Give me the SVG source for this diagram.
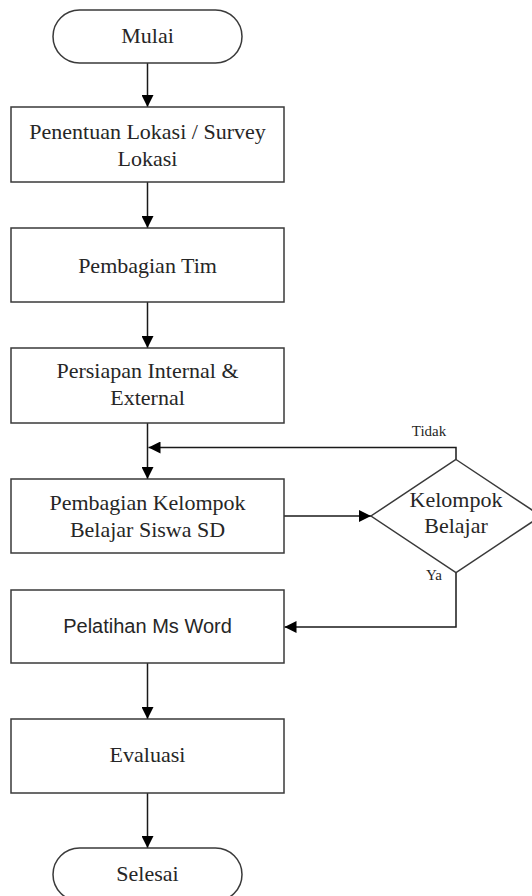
<svg xmlns="http://www.w3.org/2000/svg" width="532" height="896" viewBox="0 0 532 896">
<style>
.shape{fill:#fff;stroke:#3a3a3a;stroke-width:1.5}
.t{font-family:"Liberation Serif","Times New Roman",serif;font-size:22px;fill:#262626;text-anchor:middle}
.s{font-family:"Liberation Sans",Arial,sans-serif;font-size:20px;fill:#262626;text-anchor:middle}
.sm{font-family:"Liberation Serif","Times New Roman",serif;font-size:15px;fill:#262626;text-anchor:middle}
.c{fill:none;stroke:#1a1a1a;stroke-width:1.5}
</style>
<defs>
<marker id="ah" markerUnits="userSpaceOnUse" markerWidth="14" markerHeight="12" refX="12" refY="6" orient="auto">
<path d="M0,0 L12,6 L0,12 Z" fill="#000"/>
</marker>
</defs>
<rect width="532" height="896" fill="#fff"/>
<g id="connectors">
<line class="c" x1="147.5" y1="63" x2="147.5" y2="107" marker-end="url(#ah)"/>
<line class="c" x1="147.5" y1="182" x2="147.5" y2="228" marker-end="url(#ah)"/>
<line class="c" x1="147.5" y1="302" x2="147.5" y2="348" marker-end="url(#ah)"/>
<line class="c" x1="147.5" y1="423" x2="147.5" y2="479" marker-end="url(#ah)"/>
<polyline class="c" points="456,460 456,447.5 148.5,447.5" marker-end="url(#ah)"/>
<line class="c" x1="284" y1="516" x2="371" y2="516" marker-end="url(#ah)"/>
<polyline class="c" points="456,573 456,627 284.5,627" marker-end="url(#ah)"/>
<line class="c" x1="147.5" y1="663" x2="147.5" y2="719" marker-end="url(#ah)"/>
<line class="c" x1="147.5" y1="793" x2="147.5" y2="848" marker-end="url(#ah)"/>
<text class="sm" x="429" y="436">Tidak</text>
<text class="sm" x="434" y="580">Ya</text>
</g>
<g id="mulai">
<rect class="shape" x="53" y="10" width="189" height="53" rx="26.5"/>
<text class="t" x="147.5" y="43">Mulai</text>
</g>
<g id="survey">
<rect class="shape" x="11" y="107" width="273" height="75"/>
<text class="t" x="147.5" y="139">Penentuan Lokasi / Survey</text>
<text class="t" x="147.5" y="166">Lokasi</text>
</g>
<g id="tim">
<rect class="shape" x="11" y="228" width="273" height="74"/>
<text class="t" x="147.5" y="273">Pembagian Tim</text>
</g>
<g id="persiapan">
<rect class="shape" x="11" y="348" width="273" height="75"/>
<text class="t" x="147.5" y="378">Persiapan Internal &amp;</text>
<text class="t" x="147.5" y="405">External</text>
</g>
<g id="kelompok">
<rect class="shape" x="11" y="479" width="273" height="74"/>
<text class="t" x="147.5" y="510">Pembagian Kelompok</text>
<text class="t" x="147.5" y="537">Belajar Siswa SD</text>
</g>
<g id="keputusan">
<polygon class="shape" points="456,459.5 541,516 456,572.5 371,516"/>
<text class="t" x="456" y="507">Kelompok</text>
<text class="t" x="456" y="533">Belajar</text>
</g>
<g id="pelatihan">
<rect class="shape" x="11" y="590" width="273" height="73"/>
<text class="s" x="147.5" y="633">Pelatihan Ms Word</text>
</g>
<g id="evaluasi">
<rect class="shape" x="11" y="719" width="273" height="74"/>
<text class="t" x="147.5" y="762">Evaluasi</text>
</g>
<g id="selesai">
<rect class="shape" x="53" y="848" width="189" height="53" rx="26.5"/>
<text class="t" x="147.5" y="881">Selesai</text>
</g>
</svg>
